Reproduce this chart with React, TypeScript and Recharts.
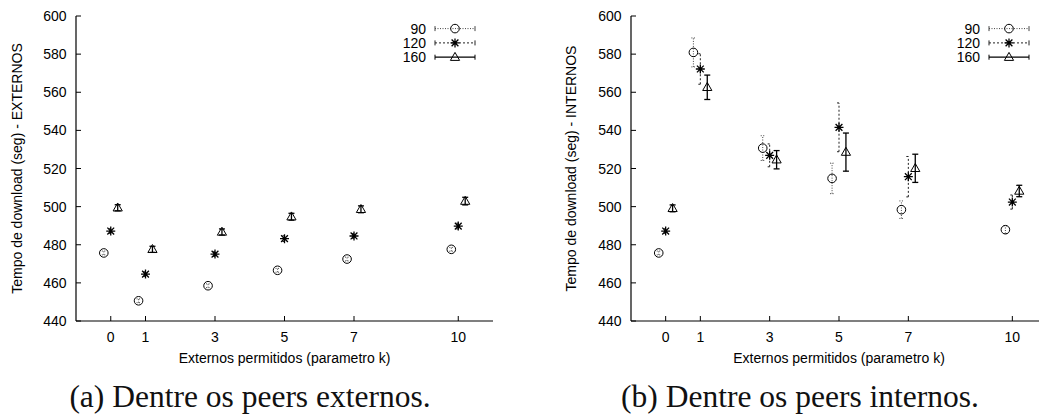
import React from 'react'
import { ScatterChart, Scatter, XAxis, YAxis, ErrorBar, Label } from 'recharts'

// parametro k e deslocamento de cada serie (como no gnuplot)
const kValues = [0, 1, 3, 5, 7, 10]
const seriesNames = ['90', '120', '160']
const seriesShift = [-0.2, 0, 0.2]
const xTicks = [0, 1, 3, 5, 7, 10]
const yTicks = [440, 460, 480, 500, 520, 540, 560, 580, 600]

// (a) externos
const ext90 = [475.7, 450.6, 458.5, 466.6, 472.5, 477.6]
const ext120 = [487.2, 464.6, 475.1, 483.2, 484.6, 489.8]
const ext160 = [499.4, 477.6, 486.7, 494.7, 498.6, 502.9]
const ext90Err = [1, 1, 1, 1, 1, 1]
const ext120Err = [1.2, 1.2, 1.2, 1.5, 1.2, 1.5]
const ext160Err = [1.6, 1.6, 1.6, 1.8, 1.8, 2]

// (b) internos
const int90 = [475.7, 580.9, 530.7, 514.8, 498.4, 487.9]
const int120 = [487.2, 572.2, 526.9, 541.6, 515.7, 502.4]
const int160 = [499.1, 562.6, 524.6, 528.6, 520.1, 508.2]
const int90Err = [1, 7.6, 6.5, 8, 4.6, 2]
const int120Err = [1.2, 8, 6, 12.8, 10.6, 3.7]
const int160Err = [1.8, 6.4, 4.8, 10, 7.4, 3]

const FONT = '"Liberation Sans", Arial, sans-serif'
const SERIF = '"Liberation Serif", "Times New Roman", serif'

const barStyles = [
  { stroke: '#444', dash: '1 1.5', width: 1, cap: 2 },
  { stroke: '#222', dash: '2 2', width: 1, cap: 2 },
  { stroke: '#000', dash: undefined, width: 1.3, cap: 3 },
]

function buildSeries(values: number[], errors: number[], shift: number) {
  return kValues.map((k, i) => ({ x: k + shift, y: values[i], err: errors[i] }))
}

function Marker({ kind, cx, cy }: { kind: number; cx: number; cy: number }) {
  if (kind === 0) {
    return <circle cx={cx} cy={cy} r={4.3} fill="none" stroke="#000" strokeWidth={1} />
  }
  if (kind === 1) {
    return (
      <path
        d={`M${cx - 4.5},${cy}H${cx + 4.5}M${cx},${cy - 4.5}V${cy + 4.5}M${cx - 3.4},${cy - 3.4}L${cx + 3.4},${cy + 3.4}M${cx - 3.4},${cy + 3.4}L${cx + 3.4},${cy - 3.4}`}
        stroke="#000"
        strokeWidth={1.3}
        fill="none"
      />
    )
  }
  return (
    <path
      d={`M${cx},${cy - 4.8}L${cx + 4.6},${cy + 3.2}L${cx - 4.6},${cy + 3.2}Z`}
      fill="none"
      stroke="#000"
      strokeWidth={1}
    />
  )
}

const BottomTick = (props: any) => {
  const { x, y, payload } = props
  return (
    <g>
      <line x1={x} y1={y} x2={x} y2={y - 5} stroke="#000" />
      <text x={x} y={y + 20.5} textAnchor="middle" fontSize={14} fontFamily={FONT} fill="#000">
        {payload.value}
      </text>
    </g>
  )
}

const TopTick = (props: any) => {
  const { x, y } = props
  return <line x1={x} y1={y} x2={x} y2={y + 5} stroke="#000" />
}

const LeftTick = (props: any) => {
  const { x, y, payload } = props
  return (
    <g>
      <line x1={x} y1={y} x2={x + 5} y2={y} stroke="#000" />
      <text x={x - 9.5} y={y + 5} textAnchor="end" fontSize={14} fontFamily={FONT} fill="#000">
        {payload.value}
      </text>
    </g>
  )
}

const RightTick = (props: any) => {
  const { x, y } = props
  return <line x1={x} y1={y} x2={x - 5} y2={y} stroke="#000" />
}

interface PanelProps {
  left: number
  width: number
  yAxisWidth: number
  yLabel: string
  yLabelOffset: number
  caption: string
  captionX: number
  values: number[][]
  errors: number[][]
}

function Panel({ left, width, yAxisWidth, yLabel, yLabelOffset, caption, captionX, values, errors }: PanelProps) {
  const plotRight = width - 26
  const legendEnd = plotRight - 67
  const rowY = [28.6, 42.9, 57.2]

  return (
    <div style={{ position: 'absolute', left, top: 0, width, height: 414 }}>
      <ScatterChart width={width} height={414} margin={{ top: 16, right: 26, bottom: 43, left: 0 }}>
        <XAxis
          xAxisId="b"
          type="number"
          dataKey="x"
          domain={[-1, 11]}
          ticks={xTicks}
          interval={0}
          height={50}
          tickSize={0}
          tickMargin={0}
          tick={BottomTick}
          axisLine={{ stroke: '#000', strokeWidth: 1.2 }}
        >
          <Label
            value="Externos permitidos (parametro k)"
            position="insideBottom"
            offset={8}
            fontSize={14}
            fontFamily={FONT}
            fill="#000"
          />
        </XAxis>
        <XAxis
          xAxisId="t"
          orientation="top"
          type="number"
          domain={[-1, 11]}
          ticks={xTicks}
          interval={0}
          height={0}
          tickSize={0}
          tickMargin={0}
          tick={TopTick}
          axisLine={{ stroke: '#000', strokeWidth: 1.2 }}
        />
        <YAxis
          yAxisId="l"
          type="number"
          dataKey="y"
          domain={[440, 600]}
          ticks={yTicks}
          interval={0}
          width={yAxisWidth}
          tickSize={0}
          tickMargin={0}
          tick={LeftTick}
          axisLine={{ stroke: '#000', strokeWidth: 1.2 }}
        >
          <Label
            value={yLabel}
            angle={-90}
            position="insideLeft"
            offset={yLabelOffset}
            fontSize={14}
            fontFamily={FONT}
            fill="#000"
            style={{ textAnchor: 'middle' }}
          />
        </YAxis>
        <YAxis
          yAxisId="r"
          orientation="right"
          type="number"
          domain={[440, 600]}
          ticks={yTicks}
          interval={0}
          width={0}
          tickSize={0}
          tickMargin={0}
          tick={RightTick}
          axisLine={{ stroke: '#000', strokeWidth: 1.2 }}
        />
        {seriesNames.map((name, s) => (
          <Scatter
            key={name}
            name={name}
            xAxisId="b"
            yAxisId="l"
            data={buildSeries(values[s], errors[s], seriesShift[s])}
            isAnimationActive={false}
            shape={(p: any) => <Marker kind={s} cx={p.cx} cy={p.cy} />}
          >
            <ErrorBar
              dataKey="err"
              direction="y"
              width={barStyles[s].cap}
              stroke={barStyles[s].stroke}
              strokeWidth={barStyles[s].width}
              strokeDasharray={barStyles[s].dash}
              isAnimationActive={false}
            />
          </Scatter>
        ))}
      </ScatterChart>
      <svg
        width={width}
        height={414}
        style={{ position: 'absolute', left: 0, top: 0, pointerEvents: 'none' }}
      >
        {seriesNames.map((name, s) => {
          const y = rowY[s]
          const x1 = legendEnd + 9
          const x2 = legendEnd + 49
          return (
            <g key={name}>
              <text x={legendEnd} y={y + 5} textAnchor="end" fontSize={14} fontFamily={FONT} fill="#000">
                {name}
              </text>
              <line
                x1={x1}
                y1={y}
                x2={x2}
                y2={y}
                stroke={barStyles[s].stroke}
                strokeWidth={barStyles[s].width}
                strokeDasharray={barStyles[s].dash}
              />
              <line x1={x1} y1={y - 2.5} x2={x1} y2={y + 2.5} stroke={barStyles[s].stroke} />
              <line x1={x2} y1={y - 2.5} x2={x2} y2={y + 2.5} stroke={barStyles[s].stroke} />
              <Marker kind={s} cx={(x1 + x2) / 2} cy={y} />
            </g>
          )
        })}
        <text x={captionX} y={407} textAnchor="middle" fontSize={31.5} fontFamily={SERIF} fill="#111">
          {caption}
        </text>
      </svg>
    </div>
  )
}

export default function App() {
  return (
    <div
      style={{
        position: 'absolute',
        left: 0,
        top: 0,
        width: 1039,
        height: 414,
        overflow: 'hidden',
        background: '#fff',
      }}
    >
      <Panel
        left={0}
        width={519}
        yAxisWidth={76}
        yLabel="Tempo de download (seg) - EXTERNOS"
        yLabelOffset={17}
        caption="(a) Dentre os peers externos."
        captionX={250}
        values={[ext90, ext120, ext160]}
        errors={[ext90Err, ext120Err, ext160Err]}
      />
      <Panel
        left={519}
        width={554}
        yAxisWidth={112}
        yLabel="Tempo de download (seg) - INTERNOS"
        yLabelOffset={52}
        caption="(b) Dentre os peers internos."
        captionX={281}
        values={[int90, int120, int160]}
        errors={[int90Err, int120Err, int160Err]}
      />
    </div>
  )
}
